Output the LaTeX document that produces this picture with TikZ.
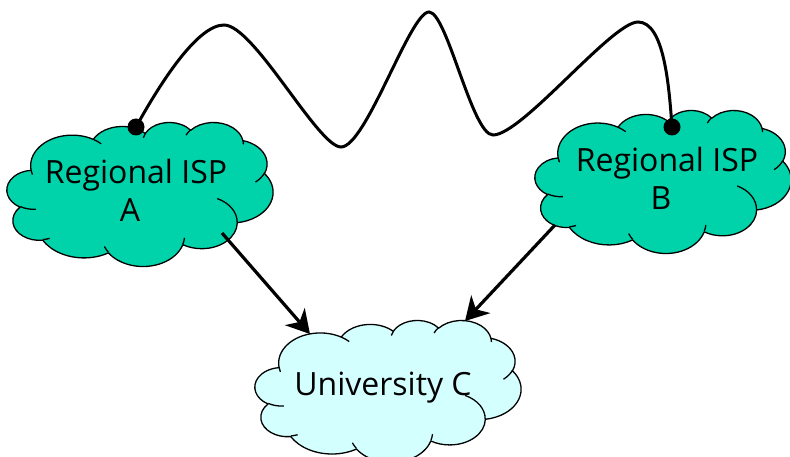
\documentclass[tikz,border=0pt]{standalone}
\usepackage{fontspec}
\setmainfont{Open Sans}
\usetikzlibrary{arrows.meta}
\definecolor{ispgreen}{RGB}{0,211,170}
\definecolor{unicyan}{RGB}{212,255,255}
% convert visual ellipse angles (degrees) to parametric ones
\newcommand\ppcalc[4]{%
  \pgfmathsetmacro\ppS{atan2((#1)*sin(#3),(#2)*cos(#3))}%
  \pgfmathsetmacro\ppEraw{atan2((#1)*sin((#3)+(#4)),(#2)*cos((#3)+(#4)))}%
  \pgfmathsetmacro\ppE{\ppS+mod(\ppEraw-\ppS+720,360)}%
  \global\let\ppS\ppS\global\let\ppE\ppE}
\newcommand\carc[4]{\pgfextra{\ppcalc{#1}{#2}{#3}{#4}} arc[start angle=\ppS, end angle=\ppE, x radius=#1, y radius=#2]}
\tikzset{
  cloudline/.style={draw=black, line width=1.3pt, line join=round},
  lbl/.style={align=center, font=\fontsize{32}{38}\selectfont, inner sep=0pt},
  link/.style={line width=3.2pt, -{Stealth[length=23pt,width=26pt,inset=7pt]}},
  wave/.style={line width=3pt},
  dotnode/.style={circle, fill=black, minimum size=17pt, inner sep=0pt}
}
% cloud: left, top, width, height, fill colour
\newcommand\pcloud[5]{%
 \begin{scope}[shift={(#1,#2)}, xscale=#3/432, yscale=#4/432]
  \path[cloudline, fill=#5] (39.00,143.70)
   \carc{67.53}{91.90}{-190.4875}{123.7805}
   \carc{53.33}{72.67}{-144.1024}{89.9452}
   \carc{43.65}{59.45}{-145.8079}{99.7230}
   \carc{48.57}{65.95}{-130.9861}{117.2417}
   \carc{53.33}{72.73}{-78.7089}{109.0269}
   \carc{67.75}{92.20}{-46.2673}{130.2690}
   \carc{57.85}{78.67}{0.6250}{114.0333}
   \carc{67.52}{92.15}{22.4516}{115.1726}
   \carc{77.20}{105.43}{66.2426}{75.7110}
   \carc{43.60}{59.18}{-274.9421}{146.7356}
   \carc{43.45}{59.45}{-246.8285}{152.5189}
   -- cycle;
  \path[cloudline]
   (46.93,261.77) \carc{43.45}{59.45}{86.7420}{26.4295}
   (69.28,348.99) \carc{43.60}{59.18}{73.6105}{11.4475}
   (164.78,390.90) \carc{67.52}{92.15}{137.6242}{14.0811}
   (288.27,347.51) \carc{67.52}{92.15}{6.4533}{15.9984}
   (341.29,229.54) \carc{57.85}{78.67}{-70.2924}{70.9174}
   (417.98,153.54) \carc{53.33}{72.73}{30.3180}{27.7515}
   (383.24,54.26) \carc{48.57}{65.95}{-13.7443}{14.8589}
   (290.78,39.52) \carc{48.57}{65.95}{-149.1815}{18.1954}
   (221.41,47.20) \carc{43.65}{59.45}{-163.4943}{17.6864}
   (140.00,51.92) \carc{67.53}{91.90}{-66.7070}{12.3194}
   (41.27,157.89) \carc{67.53}{91.90}{157.6544}{11.8582};
 \end{scope}}
\begin{document}
\begin{tikzpicture}[x=1pt,y=-1pt]
\useasboundingbox (0,0) rectangle (790,457);
\pcloud{7}{122}{266}{144}{ispgreen}
\pcloud{535}{110}{256}{143}{ispgreen}
\pcloud{255}{320}{266}{142}{unicyan}
\node[lbl] (tA) at (136,190) {Regional ISP\\A\kern12pt};
\node[lbl] (tB) at (667,178) {Regional ISP\\B\kern12pt};
\node[lbl] (tC) at (383,388) {University C};
\coordinate (a1) at (222,233);
\coordinate (c1) at (310,334);
\coordinate (b1) at (555,225);
\coordinate (c2) at (465,321);
\draw[link] (a1) -- (c1);
\draw[link] (b1) -- (c2);
\node[dotnode] (dA) at (136,127) {};
\node[dotnode] (dB) at (672,127) {};
\draw[wave] (dA.center) .. controls (162,80) and (198,25) .. (224,25)
  .. controls (254,25) and (318,147) .. (341,147)
  .. controls (366,147) and (410,12) .. (429,12)
  .. controls (447,12) and (472,135) .. (493,135)
  .. controls (522,135) and (612,22) .. (638,22)
  .. controls (664,22) and (669,85) .. (dB.center);
\end{tikzpicture}
\end{document}
